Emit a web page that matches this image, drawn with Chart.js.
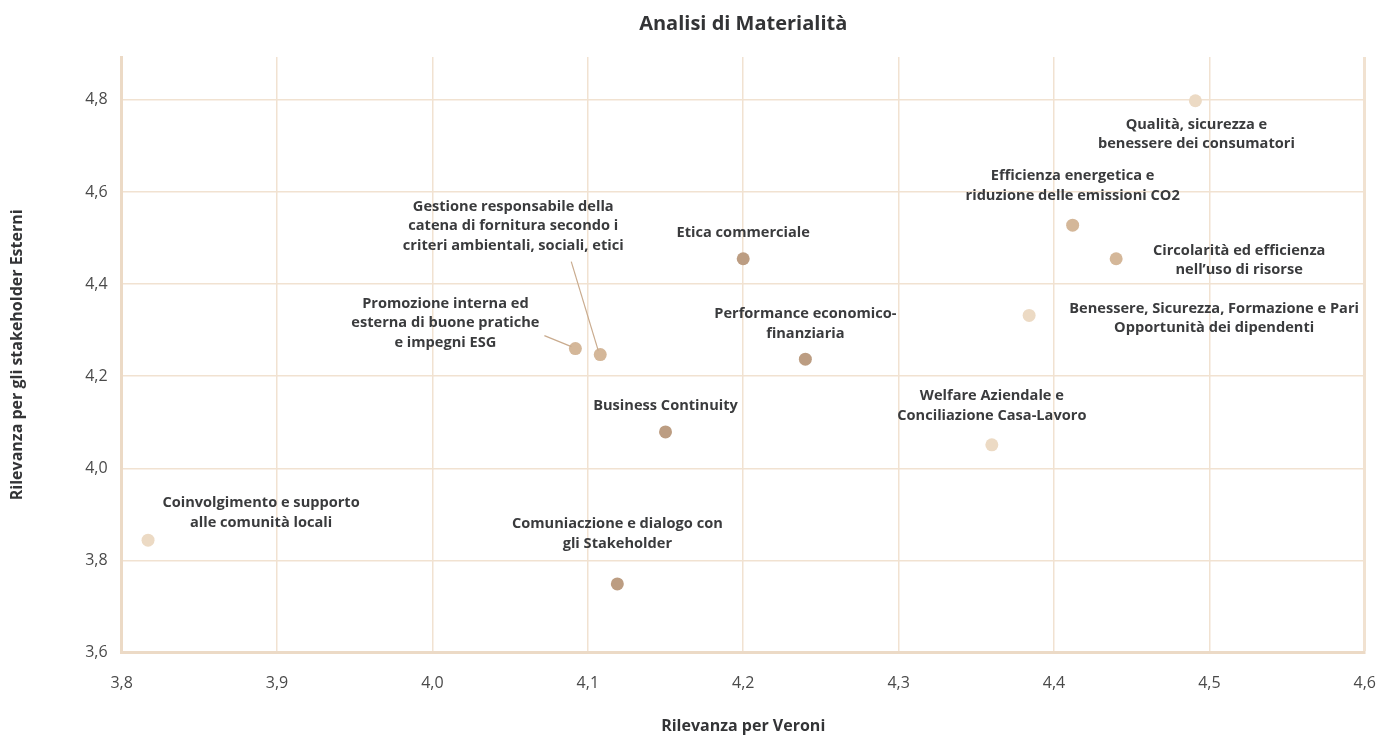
<!DOCTYPE html>
<html>
<head>
<meta charset="utf-8">
<script src="https://cdn.jsdelivr.net/npm/chart.js@4"></script>
<style>
  body { margin: 0; background: #fff; }
  #wrap { width: 1397px; height: 738px; }
</style>
</head>
<body>
<div id="wrap"><canvas id="chart"></canvas></div>
<script>
// Topics (label lines) and their scores
const topics = [
  ["Qualità, sicurezza e", "benessere dei consumatori"],
  ["Efficienza energetica e", "riduzione delle emissioni CO2"],
  ["Circolarità ed efficienza", "nell’uso di risorse"],
  ["Benessere, Sicurezza, Formazione e Pari", "Opportunità dei dipendenti"],
  ["Etica commerciale"],
  ["Performance economico-", "finanziaria"],
  ["Promozione interna ed", "esterna di buone pratiche", "e impegni ESG"],
  ["Gestione responsabile della", "catena di fornitura secondo i", "criteri ambientali, sociali, etici"],
  ["Business Continuity"],
  ["Welfare Aziendale e", "Conciliazione Casa-Lavoro"],
  ["Coinvolgimento e supporto", "alle comunità locali"],
  ["Comuniaczione e dialogo con", "gli Stakeholder"]
];
const rilevanzaVeroni = [4.491, 4.412, 4.440, 4.384, 4.200, 4.240, 4.092, 4.108, 4.150, 4.360, 3.817, 4.119];
const rilevanzaStakeholder = [4.798, 4.528, 4.455, 4.332, 4.455, 4.237, 4.260, 4.247, 4.079, 4.051, 3.844, 3.749];
const toneGroup = [2, 1, 1, 2, 0, 0, 1, 1, 0, 2, 2, 0];

const xTicks = [3.8, 3.9, 4.0, 4.1, 4.2, 4.3, 4.4, 4.5, 4.6];
const yTicks = [3.6, 3.8, 4.0, 4.2, 4.4, 4.6, 4.8];

// styling / placement of the annotations (pixels relative to the point)
const tones = ["#bc9d82", "#d4b799", "#ecdac4"];
const labelOffsets = [
  [1, 24], [0, -49], [123, -8], [185, -7], [0, -26], [0, -45],
  [-130, -45], [-87, -148], [0, -26], [0, -49], [113, -37], [0, -60]
];
const leaders = { 6: [-31, -13, -4, -2], 7: [-29, -93, -2, -4] };

const gridColor = "#f1e2d1";
const borderColor = "#ecdac6";
const boldFont = "'Open Sans', sans-serif";
const fmt = v => v.toFixed(1).replace(".", ",");

const pointLabels = {
  id: "pointLabels",
  afterDatasetsDraw(chart) {
    const ctx = chart.ctx;
    const xs = chart.scales.x, ys = chart.scales.y;
    ctx.save();
    ctx.font = "bold 14.6px " + boldFont;
    ctx.fillStyle = "#3a3b3d";
    ctx.textAlign = "center";
    ctx.textBaseline = "middle";
    topics.forEach((lines, i) => {
      const px = xs.getPixelForValue(rilevanzaVeroni[i]);
      const py = ys.getPixelForValue(rilevanzaStakeholder[i]);
      const [dx, dy] = labelOffsets[i];
      lines.forEach((t, k) => ctx.fillText(t, px + dx, py + dy + k * 19.5));
      const l = leaders[i];
      if (l) {
        ctx.strokeStyle = "#c9ab8e";
        ctx.lineWidth = 1.2;
        ctx.beginPath();
        ctx.moveTo(px + l[0], py + l[1]);
        ctx.lineTo(px + l[2], py + l[3]);
        ctx.stroke();
      }
    });
    ctx.restore();
  }
};

new Chart(document.getElementById("chart"), {
  type: "scatter",
  data: {
    datasets: [{
      data: rilevanzaVeroni.map((x, i) => ({ x, y: rilevanzaStakeholder[i] })),
      backgroundColor: toneGroup.map(g => tones[g]),
      borderWidth: 0,
      pointRadius: 6.5,
      pointHoverRadius: 6.5
    }]
  },
  options: {
    responsive: true,
    maintainAspectRatio: false,
    animation: false,
    layout: { padding: { left: 8, right: 20, top: 6, bottom: 2 } },
    plugins: {
      legend: { display: false },
      tooltip: { enabled: false },
      title: {
        display: true,
        text: "Analisi di Materialità",
        fullSize: false,
        color: "#333436",
        font: { family: boldFont, size: 20, weight: "bold" },
        padding: { top: 6, bottom: 21 }
      }
    },
    scales: {
      x: {
        type: "linear",
        min: 3.8,
        max: 4.6,
        afterBuildTicks: s => { s.ticks = xTicks.map(v => ({ value: v })); },
        ticks: {
          callback: v => fmt(v),
          color: "#4a4a4a",
          font: { family: "'Open Sans', sans-serif", size: 16 },
          padding: 21
        },
        grid: {
          color: gridColor,
          lineWidth: c => (c.index === xTicks.length - 1 ? 3 : 1.5),
          drawTicks: false
        },
        border: { color: borderColor, width: 3 },
        title: {
          display: true,
          text: "Rilevanza per Veroni",
          color: "#333436",
          font: { family: boldFont, size: 16, weight: "bold" },
          padding: { top: 3, bottom: 0 }
        }
      },
      y: {
        type: "linear",
        min: 3.6,
        max: 4.893,
        afterBuildTicks: s => { s.ticks = yTicks.map(v => ({ value: v })); },
        ticks: {
          callback: v => fmt(v),
          color: "#4a4a4a",
          font: { family: "'Open Sans', sans-serif", size: 16 },
          padding: 14
        },
        grid: { color: gridColor, lineWidth: 1.5, drawTicks: false },
        border: { color: borderColor, width: 3 },
        title: {
          display: true,
          text: "Rilevanza per gli stakeholder Esterni",
          color: "#333436",
          font: { family: boldFont, size: 16, weight: "bold" },
          padding: { top: 0, bottom: 44 }
        }
      }
    }
  },
  plugins: [pointLabels]
});
</script>
</body>
</html>
